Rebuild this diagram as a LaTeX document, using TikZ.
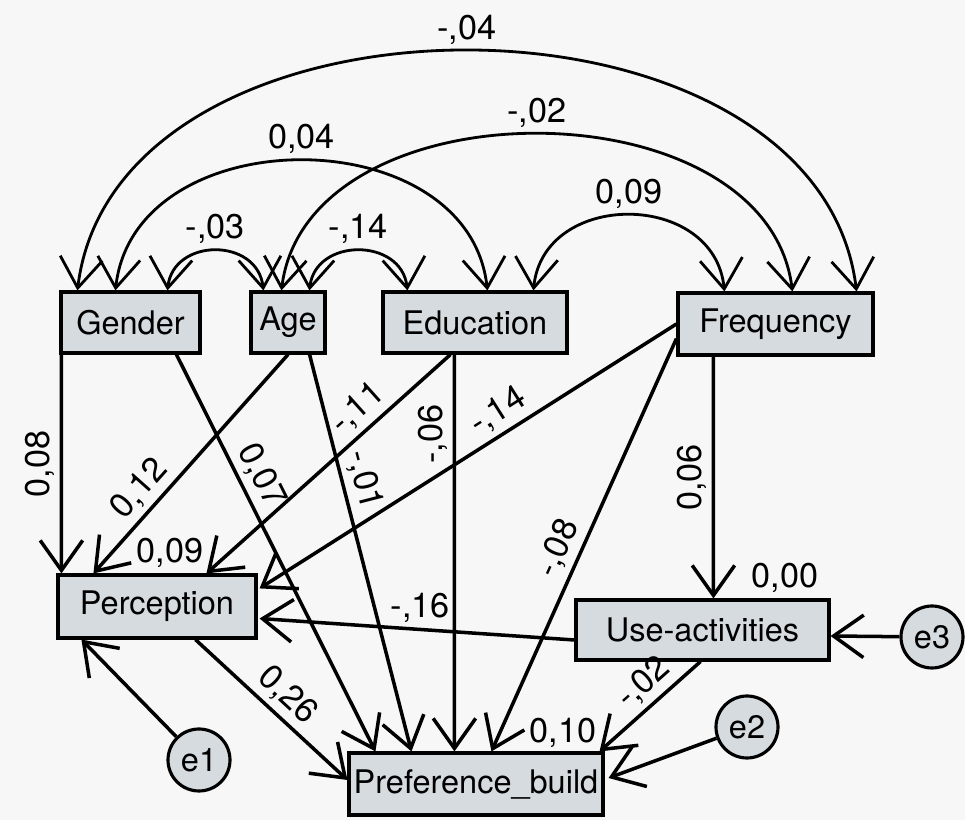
\documentclass[tikz,border=0pt]{standalone}
\usepackage{fontspec}
\setmainfont{TeX Gyre Heros}
\usetikzlibrary{arrows.meta, calc}
\definecolor{boxgray}{RGB}{214,219,223}
\definecolor{paper}{RGB}{247,247,247}
\tikzset{
  var/.style  = {draw, fill=boxgray, line width=1.8pt, inner sep=0pt,
                 font=\fontsize{18.5}{20}\selectfont},
  err/.style  = {draw, circle, fill=boxgray, line width=1.8pt, inner sep=0pt,
                 minimum size=1.24cm, font=\fontsize{18.5}{20}\selectfont},
  fl/.style   = {->, line width=2pt},
  cov/.style  = {<->, line width=1.6pt},
  coef/.style = {font=\fontsize{19.5}{21}\selectfont, inner sep=3pt},
}

\begin{document}
\begin{tikzpicture}[x=0.02cm, y=-0.02cm, >={Straight Barb[length=6mm, width=8.5mm]}]
  \fill[paper] (0,0) rectangle (965,820);
  \useasboundingbox (0,0) rectangle (965,820);
  % observed variables
  \node[var, minimum width=2.78cm, minimum height=1.22cm] (gen) at (130.5,322.5) {Gender};
  \node[var, minimum width=1.48cm, minimum height=1.22cm] (age) at (288,322.5) {Age};
  \node[var, minimum width=3.68cm, minimum height=1.22cm] (edu) at (475,322.5) {Education};
  \node[var, minimum width=3.90cm, minimum height=1.24cm] (fre) at (775.5,324) {Frequency};
  \node[var, minimum width=3.96cm, minimum height=1.26cm] (per) at (157,606.5) {Perception};
  \node[var, minimum width=5.06cm, minimum height=1.20cm] (use) at (702.5,630) {Use-activities};
  \node[var, minimum width=5.08cm, minimum height=1.24cm] (pre) at (476,784) {Preference\_build};
  % error terms
  \node[err] (e1) at (199,760) {e1};
  \node[err] (e2) at (747,727) {e2};
  \node[err] (e3) at (932,637) {e3};
  % covariances
  \draw[cov] ($(gen.north west)+(18,0)$) .. controls +(39,-320) and +(-39,-320) ..
             ($(fre.north east)+(-18,0)$) node[coef, pos=.5, above] (c1) {-,04};
  \draw[cov] ($(gen.north west)+(56,0)$) .. controls +(19,-173) and +(-19,-173) ..
             ($(edu.north west)+(106,0)$) node[coef, pos=.5, above] (c2) {0,04};
  \draw[cov] ($(age.north west)+(32,0)$) .. controls +(26,-209) and +(-26,-209) ..
             ($(fre.north west)+(116,0)$) node[coef, pos=.5, above] (c3) {-,02};
  \draw[cov] ($(gen.north west)+(108,0)$) .. controls +(6,-53) and +(-6,-53) ..
             ($(age.north west)+(14,0)$) node[coef, pos=.5, above] (c4) {-,03};
  \draw[cov] ($(age.north west)+(60,0)$) .. controls +(6,-53) and +(-6,-53) ..
             ($(edu.north west)+(26,0)$) node[coef, pos=.5, above] (c5) {-,14};
  \draw[cov] ($(edu.north west)+(152,0)$) .. controls +(10,-101) and +(-10,-101) ..
             ($(fre.north west)+(48,0)$) node[coef, pos=.5, above] (c6) {0,09};
  % paths to Perception
  \draw[fl] ($(gen.south west)+(2,0)$) -- ($(per.north west)+(5,0)$)
            node[coef, midway, rotate=90, above] (p1) {0,08};
  \draw[fl] (age.south) -- ($(per.north west)+(37,0)$)
            node[coef, pos=.68, sloped, above] (p2) {0,12};
  \draw[fl] ($(edu.south west)+(69,0)$) -- ($(per.north west)+(150,0)$)
            node[coef, pos=.32, sloped, above] (p3) {-,11};
  \draw[fl] (fre.west) -- ($(per.north east)+(2,15)$)
            node[coef, pos=.4, sloped, above] (p4) {-,14};
  \draw[fl] ($(use.west)+(0,10)$) -- ($(per.east)+(2,12)$)
            node[coef, pos=.49, above] (p5) {-,16};
  % paths to Preference_build
  \draw[fl] ($(gen.south west)+(117,0)$) -- ($(pre.north west)+(28,0)$)
            node[coef, pos=.33, sloped, above] (b1) {0,07};
  \draw[fl] ($(age.south east)+(-17,0)$) -- ($(pre.north west)+(64,0)$)
            node[coef, pos=.33, sloped, above] (b2) {-,01};
  \draw[fl] ($(edu.south west)+(73,0)$) -- ($(pre.north west)+(107,0)$)
            node[coef, pos=.2, rotate=90, above] (b3) {-,06};
  \draw[fl] ($(fre.south west)+(0,-18)$) -- ($(pre.north west)+(144,0)$)
            node[coef, pos=.53, sloped, above] (b4) {-,08};
  \draw[fl] ($(per.south west)+(139,0)$) -- ($(pre.west)+(0,-4)$)
            node[coef, pos=.51, sloped, above] (b5) {0,26};
  \draw[fl] ($(use.south)+(-2,0)$) -- ($(pre.north east)+(-5,0)$)
            node[coef, pos=.42, sloped, above] (b6) {-,02};
  % Frequency to Use-activities
  \draw[fl] ($(fre.south west)+(37,0)$) -- ($(use.north west)+(139,0)$)
            node[coef, midway, rotate=90, above] (u1) {0,06};
  % errors
  \draw[fl] (e1) -- ($(per.south west)+(25,0)$);
  \draw[fl] (e2) -- ($(pre.east)+(4,-6)$);
  \draw[fl] (e3) -- ($(use.east)+(0,6)$);
  % squared multiple correlations
  \node[coef] (r1) at (170,553) {0,09};
  \node[coef] (r2) at (563,733) {0,10};
  \node[coef] (r3) at (785,578) {0,00};
\end{tikzpicture}
\end{document}
